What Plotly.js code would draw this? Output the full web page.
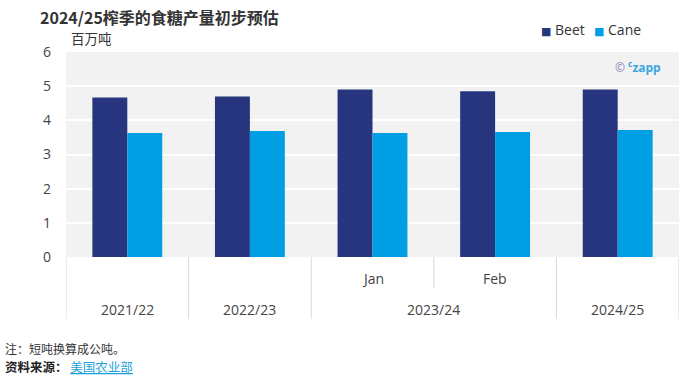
<!DOCTYPE html>
<html>
<head>
<meta charset="utf-8">
<script src="https://cdn.plot.ly/plotly-3.0.1.min.js"></script>
<style>html,body{margin:0;padding:0;background:#fff;}#chart{width:700px;height:382px;}</style>
</head>
<body>
<div id="chart"></div>
<script>
// Data
var seasons = ["2021/22", "2022/23", "2023/24", "2023/24", "2024/25"];
var months  = ["", "", "Jan", "Feb", ""];
var beet    = [4.67, 4.70, 4.90, 4.85, 4.90];
var cane    = [3.63, 3.69, 3.63, 3.66, 3.72];
var yTicks  = [0, 1, 2, 3, 4, 5, 6];
var seriesNames  = ["Beet", "Cane"];
var seriesColors = ["#27357f", "#009fe3"];

var FONT = "Open Sans, Noto Sans CJK SC, sans-serif";
var CJK = "Noto Sans CJK SC, Open Sans, sans-serif";

var keys = seasons.map(function (s, i) { return months[i] ? s + " " + months[i] : s; });

var traces = [
  { type: "bar", name: seriesNames[0], x: keys, y: beet, marker: { color: seriesColors[0] }, hoverinfo: "y" },
  { type: "bar", name: seriesNames[1], x: keys, y: cane, marker: { color: seriesColors[1] }, hoverinfo: "y" }
];

var plotTop = 52, plotBottom = 257, plotH = plotBottom - plotTop;
function py(pixY) { return (plotBottom - pixY) / plotH; }
function px(pixX) { return (pixX - 66) / 613; }

var annotations = [];
var shapes = [];
var lineColor = "#d9d9d9";

// inner (month) labels
months.forEach(function (m, i) {
  if (m) {
    annotations.push({ xref: "x", yref: "paper", x: i, y: py(278), text: m, showarrow: false,
      xanchor: "center", yanchor: "middle", font: { family: FONT, size: 14, color: "#444" } });
  }
});
// outer (season) labels, centred over their group
var groups = [];
seasons.forEach(function (s, i) {
  var g = groups.length ? groups[groups.length - 1] : null;
  if (g && g.name === s) { g.end = i; } else { groups.push({ name: s, start: i, end: i }); }
});
groups.forEach(function (g) {
  annotations.push({ xref: "x", yref: "paper", x: (g.start + g.end) / 2, y: py(309), text: g.name, showarrow: false,
    xanchor: "center", yanchor: "middle", font: { family: FONT, size: 14, color: "#444" } });
  shapes.push({ type: "line", xref: "x", yref: "paper", x0: g.start - 0.5, x1: g.start - 0.5, y0: 0, y1: py(319),
    line: { color: lineColor, width: 1 } });
  for (var k = g.start + 1; k <= g.end; k++) {
    shapes.push({ type: "line", xref: "x", yref: "paper", x0: k - 0.5, x1: k - 0.5, y0: 0, y1: py(288),
      line: { color: lineColor, width: 1 } });
  }
});
shapes.push({ type: "line", xref: "x", yref: "paper", x0: seasons.length - 0.5, x1: seasons.length - 0.5, y0: 0, y1: py(319),
  line: { color: lineColor, width: 1 } });

// legend (drawn as annotations to match the compact swatches)
var legendX = [539, 592];
seriesNames.forEach(function (n, i) {
  annotations.push({ xref: "paper", yref: "paper", x: px(legendX[i]), y: py(30), showarrow: false,
    xanchor: "left", yanchor: "middle",
    text: '<span style="color:' + seriesColors[i] + ';font-size:11px;font-family:DejaVu Sans">■</span> ' + n,
    font: { family: FONT, size: 14, color: "#333" } });
});

// unit label
annotations.push({ xref: "paper", yref: "paper", x: px(69), y: py(38), text: "百万吨", showarrow: false,
  xanchor: "left", yanchor: "middle", font: { family: CJK, size: 13.5, color: "#333" } });
// watermark
annotations.push({ xref: "paper", yref: "paper", x: px(613), y: py(67),
  text: '<span style="color:#7e84b5">©</span> <b><span style="color:#3aa6e2"><sup>c</sup>zapp</span></b>',
  showarrow: false, xanchor: "left", yanchor: "middle", font: { family: "Open Sans, sans-serif", size: 12 } });
// footer
annotations.push({ xref: "paper", yref: "paper", x: px(3), y: py(348), text: "注：短吨换算成公吨。", showarrow: false,
  xanchor: "left", yanchor: "middle", font: { family: CJK, size: 12, color: "#333" } });
annotations.push({ xref: "paper", yref: "paper", x: px(3), y: py(366),
  text: '<b>资料来源：</b> <span style="color:#1a9fd9"><u>美国农业部</u></span>', showarrow: false,
  xanchor: "left", yanchor: "middle", font: { family: CJK, size: 12.5, color: "#222" } });

var layout = {
  width: 700, height: 382,
  margin: { l: 66, r: 21, t: 52, b: 125 },
  paper_bgcolor: "#ffffff",
  plot_bgcolor: "#f2f2f2",
  barmode: "group",
  bargap: 0.43,
  bargroupgap: 0,
  title: { text: "<b>2024/25榨季的食糖产量初步预估</b>", xref: "container", yref: "container",
    x: 40 / 700, xanchor: "left", y: 1 - 18 / 382, yanchor: "middle",
    font: { family: CJK, size: 16, color: "#333" } },
  showlegend: false,
  xaxis: { type: "category", categoryorder: "array", categoryarray: keys, showticklabels: false,
    showgrid: false, zeroline: false, showline: false, ticks: "", range: [-0.5, keys.length - 0.5] },
  yaxis: { range: [0, 6], tickvals: yTicks, ticktext: yTicks.map(String), showgrid: true, gridcolor: "#ffffff",
    gridwidth: 2, zeroline: false, showline: false, ticks: "", ticklabelstandoff: 14,
    tickfont: { family: FONT, size: 14, color: "#444" } },
  annotations: annotations,
  shapes: shapes
};

Plotly.newPlot("chart", traces, layout, { displayModeBar: false, staticPlot: true });
</script>
</body>
</html>
